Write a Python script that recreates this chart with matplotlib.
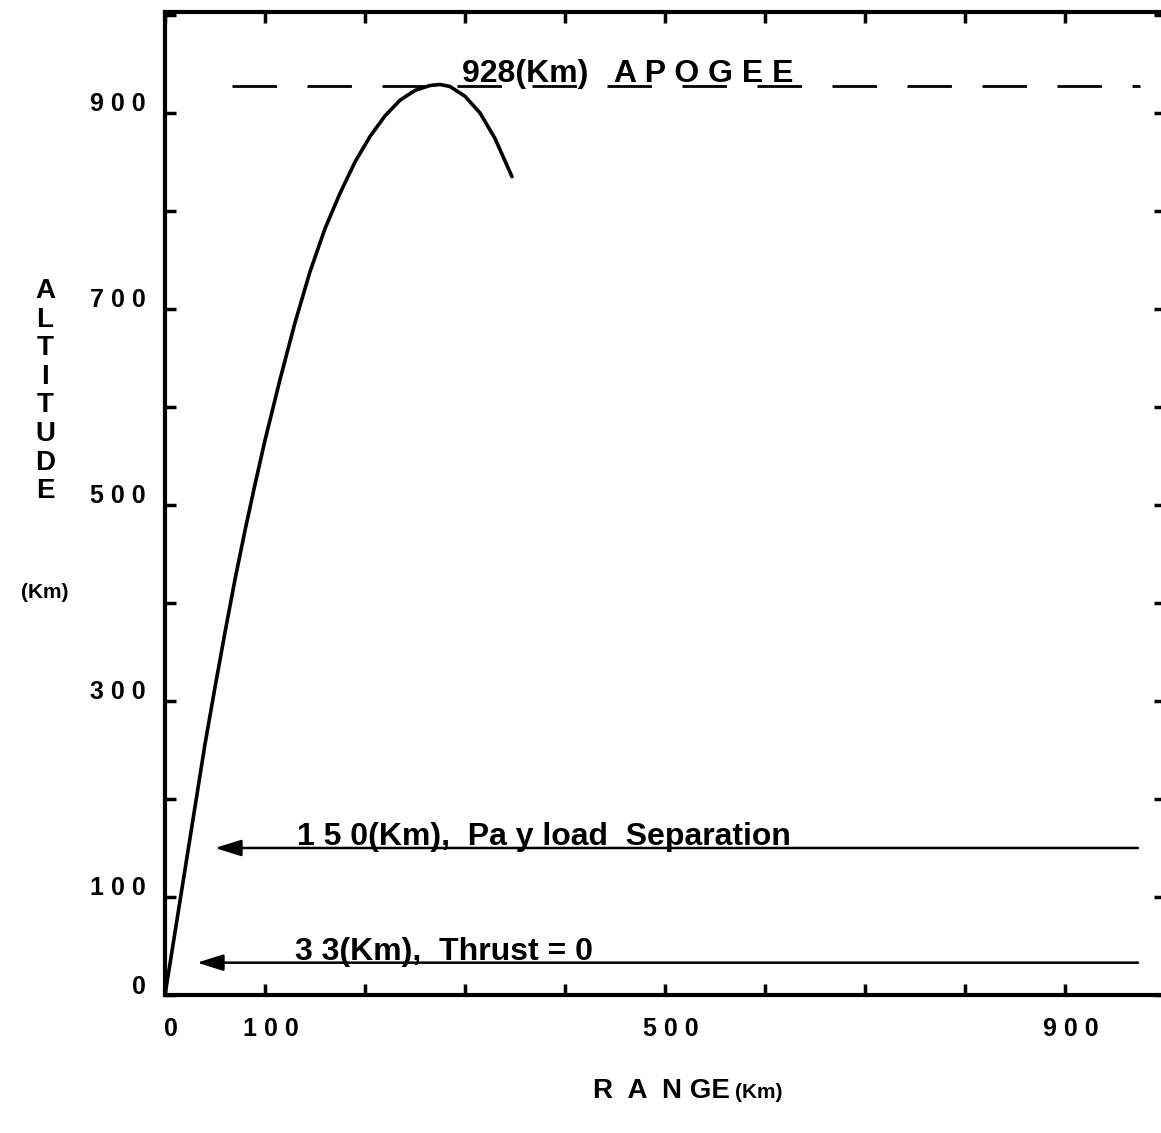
import matplotlib
matplotlib.use("Agg")
import matplotlib.pyplot as plt
import matplotlib.transforms as mtransforms

# trajectory (range km, altitude km)
range_km = [0, 10, 20, 30, 40, 50, 60, 70, 80, 90, 100, 115, 130, 145, 160,
            175, 190, 205, 220, 235, 250, 265, 275, 285, 300, 315, 330, 347]
alt_km = [0, 64, 128, 192, 256, 314, 370, 424, 474, 521, 566, 628, 686, 738,
          782, 818, 850, 876, 897, 913, 923, 928, 929, 927, 917, 900, 874, 835]

apogee_km = 928
apogee_span = [67, 975]
payload_km = 150
payload_span = [50, 973]
burnout_km = 33
burnout_span = [32, 973]

x_ticks = list(range(0, 1000, 100))
x_labels = {0: "0", 100: "1 0 0", 500: "5 0 0", 900: "9 0 0"}
y_ticks = list(range(0, 1001, 100))
y_labels = {0: "0", 100: "1 0 0", 300: "3 0 0", 500: "5 0 0", 700: "7 0 0", 900: "9 0 0"}

plt.rcParams['font.family'] = ['Liberation Sans', 'DejaVu Sans']
plt.rcParams['font.weight'] = 'bold'

W, H = 1161, 1133
fig = plt.figure(figsize=(W / 100, H / 100), dpi=100)
ax = fig.add_axes([165 / W, 138 / H, 1000 / W, 983 / H])
ax.set_xlim(0, 1000)
ax.set_ylim(0, 1003)

ax.plot(range_km, alt_km, color='black', lw=2.6, solid_capstyle='round',
        solid_joinstyle='round')

# apogee dashed line
ax.plot(apogee_span, [apogee_km, apogee_km], color='black', lw=2.0,
        ls=(0, (16, 11)))
ax.text(297, apogee_km + 4, "928(Km)   A P O G E E", fontsize=23,
        fontweight='bold', va='baseline', ha='left')

# event markers with left arrows
for level, span, label, x0 in [
        (payload_km, payload_span, "1 5 0(Km),  Pa y load  Separation", 132),
        (burnout_km, burnout_span, "3 3(Km),  Thrust = 0", 130)]:
    ax.annotate('', xy=(span[0], level), xytext=(span[1], level),
                arrowprops=dict(arrowstyle='-|>,head_length=0.8,head_width=0.25',
                                color='black', lw=1.8, mutation_scale=20,
                                shrinkA=0, shrinkB=0))
    ax.text(x0, level + 3, label, fontsize=23, fontweight='bold',
            va='baseline', ha='left')

for s in ax.spines.values():
    s.set_linewidth(3)

ax.set_xticks(x_ticks)
ax.set_xticklabels([x_labels.get(t, "") for t in x_ticks])
ax.set_yticks(y_ticks)
ax.set_yticklabels([y_labels.get(t, "") for t in y_ticks])
ax.tick_params(direction='in', length=8, width=2.5, top=True, right=True,
               labelsize=18)
ax.tick_params(axis='x', pad=16)
ax.tick_params(axis='y', pad=14)

dx = mtransforms.ScaledTranslation(6 / 100, 0, fig.dpi_scale_trans)
for lab in ax.get_xticklabels():
    lab.set_transform(lab.get_transform() + dx)
dy = mtransforms.ScaledTranslation(0, 11 / 100, fig.dpi_scale_trans)
for lab in ax.get_yticklabels():
    lab.set_transform(lab.get_transform() + dy)

# axis titles
fig.text(45 / W, 1 - 278 / H, "\n".join("ALTITUDE"), fontsize=20,
         fontweight='bold', ha='center', va='top', linespacing=1.13)
fig.text(45 / W, 1 - 592 / H, "(Km)", fontsize=15, fontweight='bold',
         ha='center', va='center')
fig.text(730 / W, 1 - 1098 / H, "R  A  N GE", fontsize=20, fontweight='bold',
         ha='right', va='baseline')
fig.text(735 / W, 1 - 1098 / H, "(Km)", fontsize=15, fontweight='bold',
         ha='left', va='baseline')

fig.savefig("out.png", dpi=100)
